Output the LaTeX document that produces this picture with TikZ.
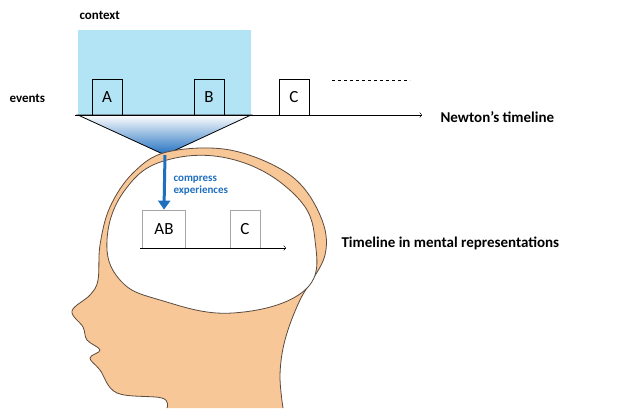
\documentclass[tikz,border=0pt]{standalone}
\usepackage{fontspec}
\setmainfont{Carlito}
\usetikzlibrary{positioning, arrows.meta}
\definecolor{ctxblue}{HTML}{B3E4F5}
\definecolor{arrblue}{HTML}{1F6FBF}
\definecolor{skin}{HTML}{F8C797}
\definecolor{skinline}{HTML}{5A4A3E}
\tikzset{%
  % Specifications for style of nodes:
  event/.style = {rectangle, draw=black, minimum width=30pt, minimum height=36pt, inner sep=0pt, font=\fontsize{17}{17}\selectfont, anchor=south},
  mevent/.style = {event, draw=gray!70, fill=white},
  caption/.style = {font=\bfseries\fontsize{15}{15}\selectfont, anchor=west},
}
\begin{document}
\begin{tikzpicture}[x=1pt, y=-1pt]
    \useasboundingbox (0,0) rectangle (640,410);
    % context
    \fill[ctxblue] (78,30) rectangle (251,115);
    \node (ctx) [caption, font=\bfseries\fontsize{13}{13}\selectfont] at (76,15) {context};
    % funnel
    \shade[top color=white, bottom color=arrblue, draw=black, thick] (78,115) -- (251,115) -- (165,155) -- cycle;
    \coordinate (tip) at (165,155);
    % head
    \draw[fill=skin, draw=skinline, thick] plot[smooth, tension=0.6] coordinates {
      (167,408) (162,398) (117,393) (100,370) (90,358) (100,350) (87,340) (83,327)
      (72,311) (90,295) (98,280) (100,245) (110,207) (133,173) (167,152) (230,150)
      (290,175) (320,215) (325,255) (300,300) (285,340) (280,375) (283,408)};
    \draw[fill=white, draw=skinline, thick] plot[smooth cycle, tension=0.7] coordinates {
      (167,160) (235,160) (295,195) (315,240) (305,290) (233,313) (160,300) (120,280) (107,240) (125,190)};
    % events on Newton's timeline
    \node (events) [caption, font=\bfseries\fontsize{13}{13}\selectfont] at (6,98) {events};
    \coordinate (tstart) at (75,115);
    \coordinate (tend) at (422,115);
    \node (a) [event] at (107,115) {A};
    \node (b) [event] at (209,115) {B};
    \node (c) [event, fill=white] at (294,115) {C};
    \draw[->] (tstart) -- (tend);
    \draw[dashed] (c.east) ++(23,-17) coordinate (d1) -- ++(78,0) coordinate (d2);
    \node (newton) [caption] at (437,117) {Newton’s timeline};
    % mental timeline
    \coordinate (mstart) at (140,248);
    \coordinate (mend) at (286,248);
    \node (ab) [mevent, minimum width=43pt, minimum height=38pt] at (164,248) {AB};
    \node (mc) [mevent, minimum height=38pt] at (245,248) {C};
    \draw[->] (mstart) -- (mend);
    \node (mental) [caption] at (338,243) {Timeline in mental representations};
    % compress arrow
    \draw[arrblue, line width=3pt, -{Triangle[length=9pt,width=12pt]}] (tip) -- (ab.north);
    \node (compress) [font=\bfseries\fontsize{11}{12}\selectfont, text=arrblue, align=left, anchor=west] at (170,186) {compress\\experiences};
\end{tikzpicture}
\end{document}
